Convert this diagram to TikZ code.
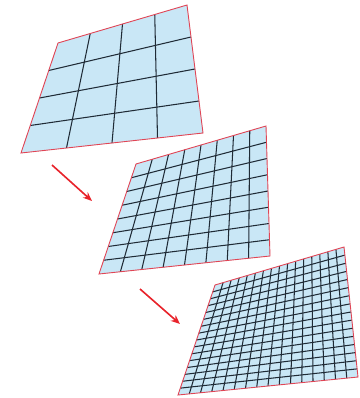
\documentclass[tikz,border=0pt]{standalone}
\usepackage{xcolor}
\usetikzlibrary{arrows.meta,calc}
\definecolor{sheet}{HTML}{C9E7F6}
\definecolor{rimred}{HTML}{E04555}
\definecolor{meshink}{HTML}{1F2B36}
\definecolor{pointer}{HTML}{E8232B}

% quad with corners tl, tr, br, bl, cut into #5 x #5 cells
\newcommand{\meshquad}[5]{%
  \fill[sheet] (#1) -- (#2) -- (#3) -- (#4) -- cycle;
  \pgfmathtruncatemacro{\lastcut}{#5-1}
  \foreach \k in {1,...,\lastcut} {
    \draw[meshline] ($(#1)!\k/#5!(#2)$) -- ($(#4)!\k/#5!(#3)$);
    \draw[meshline] ($(#1)!\k/#5!(#4)$) -- ($(#2)!\k/#5!(#3)$);
  }
  \draw[rim] (#1) -- (#2) -- (#3) -- (#4) -- cycle;
}

\begin{document}
\begin{tikzpicture}[
  x=1pt, y=-1pt,
  meshline/.style={draw=meshink, line width=1.05pt},
  rim/.style={draw=rimred, line width=0.9pt, line join=miter},
  refine/.style={-{Stealth[length=3.2mm, width=2.6mm]}, draw=pointer, line width=1.6pt},
]
  \useasboundingbox (0,0) rectangle (359,398);
  % coarse sheet
  \coordinate (ca) at (58,43);
  \coordinate (cb) at (187,5);
  \coordinate (cc) at (203,133);
  \coordinate (cd) at (21,153);
  % middle sheet
  \coordinate (ma) at (136,164);
  \coordinate (mb) at (266,126);
  \coordinate (mc) at (270,256);
  \coordinate (md) at (99,274);
  % fine sheet
  \coordinate (fa) at (215,285);
  \coordinate (fb) at (344,247);
  \coordinate (fc) at (358,377);
  \coordinate (fd) at (178,395);

  \meshquad{ca}{cb}{cc}{cd}{4}
  \meshquad{ma}{mb}{mc}{md}{8}
  \meshquad{fa}{fb}{fc}{fd}{16}

  % refinement steps
  \coordinate (s1) at (52,165);
  \coordinate (t1) at (92,201);
  \coordinate (s2) at (140,289);
  \coordinate (t2) at (180,324);
  \draw[refine] (s1) -- (t1);
  \draw[refine] (s2) -- (t2);
\end{tikzpicture}
\end{document}
